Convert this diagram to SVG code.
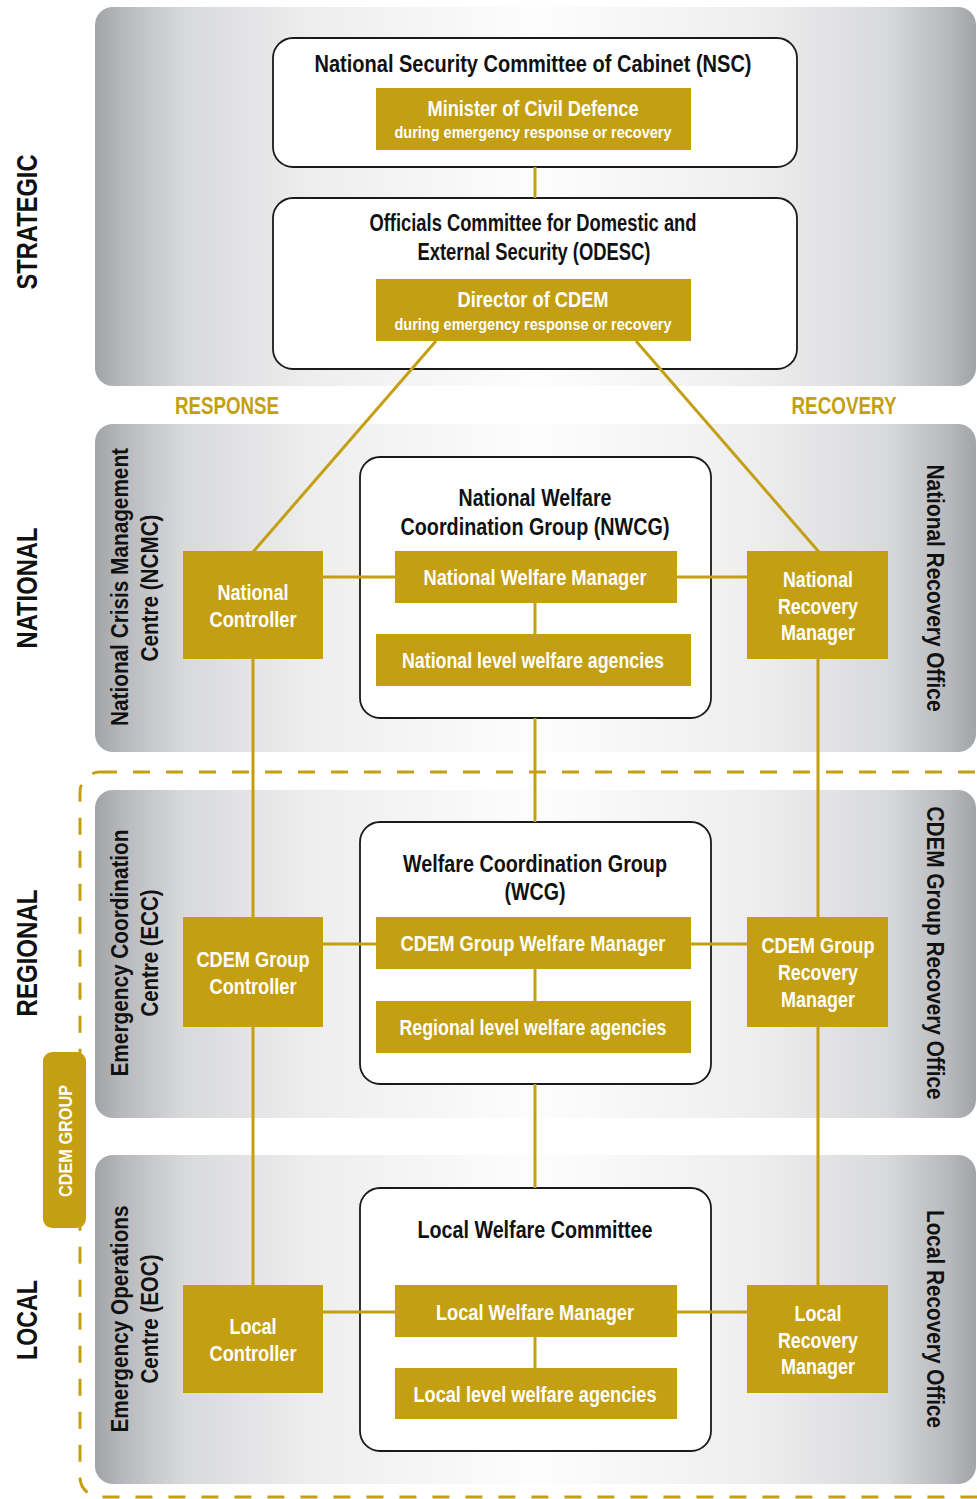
<svg xmlns="http://www.w3.org/2000/svg" width="977" height="1499" viewBox="0 0 977 1499">
<defs>
<linearGradient id="band" x1="0" y1="0" x2="1" y2="0">
<stop offset="0" stop-color="#a2a3a6"/>
<stop offset="0.03" stop-color="#b7b8bb"/>
<stop offset="0.1" stop-color="#d8d9db"/>
<stop offset="0.25" stop-color="#eeeeef"/>
<stop offset="0.5" stop-color="#fdfdfd"/>
<stop offset="0.75" stop-color="#eeeeef"/>
<stop offset="0.9" stop-color="#d8d9db"/>
<stop offset="0.97" stop-color="#b7b8bb"/>
<stop offset="1" stop-color="#a2a3a6"/>
</linearGradient>
<style>
.band{fill:url(#band);}
.cont{fill:#ffffff;stroke:#1a1a1a;stroke-width:1.8;}
.gold{fill:#c49f12;}
.conn{stroke:#c49f12;stroke-width:3;fill:none;}
.dash{stroke:#c49f12;stroke-width:3;fill:none;stroke-dasharray:17 16;}
text{font-family:"Liberation Sans",Arial,sans-serif;font-weight:bold;}
.h{font-size:23px;fill:#111;text-anchor:middle;}
.w{font-size:22px;fill:#fff;text-anchor:middle;}
.ws{font-size:16px;fill:#fff;text-anchor:middle;}
.lvl{font-size:30px;fill:#111;text-anchor:middle;}
.side{font-size:24px;fill:#111;text-anchor:middle;}
.gl{font-size:23px;fill:#c49f12;text-anchor:middle;}
</style>
</defs>

<g id="bands">
<rect class="band" x="95" y="7" width="881" height="379" rx="18"/>
<rect class="band" x="95" y="424" width="881" height="328" rx="18"/>
<rect class="band" x="95" y="790" width="881" height="328" rx="18"/>
<rect class="band" x="95" y="1155" width="881" height="329" rx="18"/>
</g>

<g id="cdem-group-border">
<rect class="dash" x="80" y="772" width="930" height="725" rx="20"/>
</g>

<g id="level-labels">
<text class="lvl" transform="translate(37,222) rotate(-90)" textLength="135" lengthAdjust="spacingAndGlyphs">STRATEGIC</text>
<text class="lvl" transform="translate(37,588) rotate(-90)" textLength="121" lengthAdjust="spacingAndGlyphs">NATIONAL</text>
<text class="lvl" transform="translate(37,953) rotate(-90)" textLength="127" lengthAdjust="spacingAndGlyphs">REGIONAL</text>
<text class="lvl" transform="translate(37,1320) rotate(-90)" textLength="80" lengthAdjust="spacingAndGlyphs">LOCAL</text>
</g>

<g id="cdem-group-label">
<rect class="gold" x="43" y="1052" width="43" height="176" rx="9"/>
<text transform="translate(72,1141) rotate(-90)" font-size="19" fill="#fff" text-anchor="middle" textLength="112" lengthAdjust="spacingAndGlyphs">CDEM GROUP</text>
</g>

<g id="phase-labels">
<text class="gl" x="227" y="414" textLength="104" lengthAdjust="spacingAndGlyphs">RESPONSE</text>
<text class="gl" x="844" y="414" textLength="105" lengthAdjust="spacingAndGlyphs">RECOVERY</text>
</g>

<g id="centre-labels">
<text class="side" transform="translate(128,587) rotate(-90)" textLength="278" lengthAdjust="spacingAndGlyphs">National Crisis Management</text>
<text class="side" transform="translate(158,588) rotate(-90)" textLength="147" lengthAdjust="spacingAndGlyphs">Centre (NCMC)</text>
<text class="side" transform="translate(128,953) rotate(-90)" textLength="247" lengthAdjust="spacingAndGlyphs">Emergency Coordination</text>
<text class="side" transform="translate(158,953) rotate(-90)" textLength="127" lengthAdjust="spacingAndGlyphs">Centre (ECC)</text>
<text class="side" transform="translate(128,1319) rotate(-90)" textLength="227" lengthAdjust="spacingAndGlyphs">Emergency Operations</text>
<text class="side" transform="translate(158,1319) rotate(-90)" textLength="129" lengthAdjust="spacingAndGlyphs">Centre (EOC)</text>
<text class="side" transform="translate(927,588) rotate(90)" textLength="247" lengthAdjust="spacingAndGlyphs">National Recovery Office</text>
<text class="side" transform="translate(927,953) rotate(90)" textLength="293" lengthAdjust="spacingAndGlyphs">CDEM Group Recovery Office</text>
<text class="side" transform="translate(927,1319) rotate(90)" textLength="218" lengthAdjust="spacingAndGlyphs">Local Recovery Office</text>
</g>

<g id="nsc">
<rect class="cont" x="273" y="38" width="524" height="129" rx="20"/>
<text class="h" x="533" y="72" textLength="437" lengthAdjust="spacingAndGlyphs">National Security Committee  of Cabinet (NSC)</text>
</g>
<g id="odesc">
<rect class="cont" x="273" y="198" width="524" height="171" rx="20"/>
<text class="h" x="533" y="231" textLength="327" lengthAdjust="spacingAndGlyphs">Officials Committee for Domestic and</text>
<text class="h" x="534" y="260" textLength="233" lengthAdjust="spacingAndGlyphs">External Security (ODESC)</text>
</g>
<g id="nwcg">
<rect class="cont" x="360" y="457" width="351" height="261" rx="20"/>
<text class="h" x="535" y="506" textLength="153" lengthAdjust="spacingAndGlyphs">National Welfare</text>
<text class="h" x="535" y="535" textLength="269" lengthAdjust="spacingAndGlyphs">Coordination Group (NWCG)</text>
</g>
<g id="wcg">
<rect class="cont" x="360" y="822" width="351" height="262" rx="20"/>
<text class="h" x="535" y="872" textLength="264" lengthAdjust="spacingAndGlyphs">Welfare Coordination Group</text>
<text class="h" x="535" y="900" textLength="61" lengthAdjust="spacingAndGlyphs">(WCG)</text>
</g>
<g id="lwc">
<rect class="cont" x="360" y="1188" width="351" height="263" rx="20"/>
<text class="h" x="535" y="1238" textLength="235" lengthAdjust="spacingAndGlyphs">Local Welfare Committee</text>
</g>

<g id="connectors">
<line class="conn" x1="535" y1="167" x2="535" y2="198"/>
<line class="conn" x1="436" y1="341" x2="253" y2="552"/>
<line class="conn" x1="636" y1="341" x2="819" y2="552"/>
<line class="conn" x1="323" y1="577" x2="395" y2="577"/>
<line class="conn" x1="677" y1="577" x2="747" y2="577"/>
<line class="conn" x1="535" y1="603" x2="535" y2="634"/>
<line class="conn" x1="253" y1="659" x2="253" y2="917"/>
<line class="conn" x1="818" y1="659" x2="818" y2="917"/>
<line class="conn" x1="535" y1="718" x2="535" y2="822"/>
<line class="conn" x1="323" y1="944" x2="376" y2="944"/>
<line class="conn" x1="691" y1="944" x2="747" y2="944"/>
<line class="conn" x1="535" y1="969" x2="535" y2="1001"/>
<line class="conn" x1="253" y1="1027" x2="253" y2="1285"/>
<line class="conn" x1="818" y1="1027" x2="818" y2="1285"/>
<line class="conn" x1="535" y1="1084" x2="535" y2="1188"/>
<line class="conn" x1="323" y1="1312" x2="395" y2="1312"/>
<line class="conn" x1="677" y1="1312" x2="747" y2="1312"/>
<line class="conn" x1="535" y1="1337" x2="535" y2="1368"/>
</g>

<g id="minister">
<rect class="gold" x="376" y="88" width="315" height="62"/>
<text class="w" x="533" y="116" textLength="211" lengthAdjust="spacingAndGlyphs">Minister of Civil Defence</text>
<text class="ws" x="533" y="138" textLength="277" lengthAdjust="spacingAndGlyphs">during emergency response or recovery</text>
</g>
<g id="director">
<rect class="gold" x="376" y="279" width="315" height="62"/>
<text class="w" x="533" y="307" textLength="151" lengthAdjust="spacingAndGlyphs">Director of CDEM</text>
<text class="ws" x="533" y="330" textLength="277" lengthAdjust="spacingAndGlyphs">during emergency response or recovery</text>
</g>

<g id="national-controller">
<rect class="gold" x="183" y="551" width="140" height="108"/>
<text class="w" x="253" y="600" textLength="71" lengthAdjust="spacingAndGlyphs">National</text>
<text class="w" x="253" y="627" textLength="87" lengthAdjust="spacingAndGlyphs">Controller</text>
</g>
<g id="national-welfare-manager">
<rect class="gold" x="395" y="551" width="282" height="52"/>
<text class="w" x="535" y="585" textLength="223" lengthAdjust="spacingAndGlyphs">National Welfare Manager</text>
</g>
<g id="national-agencies">
<rect class="gold" x="376" y="634" width="315" height="52"/>
<text class="w" x="533" y="668" textLength="262" lengthAdjust="spacingAndGlyphs">National level welfare agencies</text>
</g>
<g id="national-recovery-manager">
<rect class="gold" x="747" y="551" width="141" height="108"/>
<text class="w" x="818" y="587" textLength="70" lengthAdjust="spacingAndGlyphs">National</text>
<text class="w" x="818" y="614" textLength="80" lengthAdjust="spacingAndGlyphs">Recovery</text>
<text class="w" x="818" y="640" textLength="74" lengthAdjust="spacingAndGlyphs">Manager</text>
</g>

<g id="cdem-group-controller">
<rect class="gold" x="183" y="917" width="140" height="110"/>
<text class="w" x="253" y="967" textLength="113" lengthAdjust="spacingAndGlyphs">CDEM Group</text>
<text class="w" x="253" y="994" textLength="87" lengthAdjust="spacingAndGlyphs">Controller</text>
</g>
<g id="cdem-group-welfare-manager">
<rect class="gold" x="376" y="917" width="315" height="52"/>
<text class="w" x="533" y="951" textLength="265" lengthAdjust="spacingAndGlyphs">CDEM Group Welfare Manager</text>
</g>
<g id="regional-agencies">
<rect class="gold" x="376" y="1001" width="315" height="52"/>
<text class="w" x="533" y="1035" textLength="267" lengthAdjust="spacingAndGlyphs">Regional level welfare agencies</text>
</g>
<g id="cdem-group-recovery-manager">
<rect class="gold" x="747" y="917" width="141" height="110"/>
<text class="w" x="818" y="953" textLength="113" lengthAdjust="spacingAndGlyphs">CDEM Group</text>
<text class="w" x="818" y="980" textLength="80" lengthAdjust="spacingAndGlyphs">Recovery</text>
<text class="w" x="818" y="1007" textLength="74" lengthAdjust="spacingAndGlyphs">Manager</text>
</g>

<g id="local-controller">
<rect class="gold" x="183" y="1285" width="140" height="108"/>
<text class="w" x="253" y="1334" textLength="47" lengthAdjust="spacingAndGlyphs">Local</text>
<text class="w" x="253" y="1361" textLength="87" lengthAdjust="spacingAndGlyphs">Controller</text>
</g>
<g id="local-welfare-manager">
<rect class="gold" x="395" y="1285" width="282" height="52"/>
<text class="w" x="535" y="1320" textLength="198" lengthAdjust="spacingAndGlyphs">Local Welfare Manager</text>
</g>
<g id="local-agencies">
<rect class="gold" x="395" y="1368" width="282" height="51"/>
<text class="w" x="535" y="1402" textLength="243" lengthAdjust="spacingAndGlyphs">Local level welfare agencies</text>
</g>
<g id="local-recovery-manager">
<rect class="gold" x="747" y="1285" width="141" height="108"/>
<text class="w" x="818" y="1321" textLength="47" lengthAdjust="spacingAndGlyphs">Local</text>
<text class="w" x="818" y="1348" textLength="80" lengthAdjust="spacingAndGlyphs">Recovery</text>
<text class="w" x="818" y="1374" textLength="74" lengthAdjust="spacingAndGlyphs">Manager</text>
</g>
</svg>
